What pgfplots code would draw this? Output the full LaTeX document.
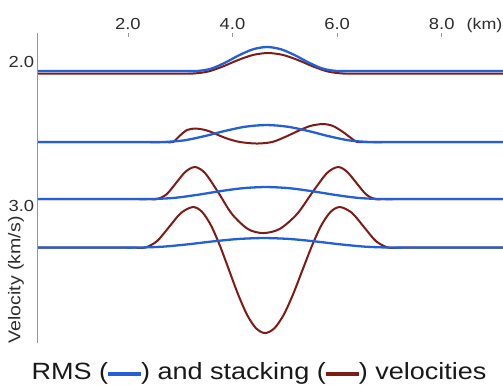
\documentclass[border=0pt]{standalone}
\usepackage{pgfplots}
\pgfplotsset{compat=1.18}
\usepackage{fontspec}
\setmainfont{Liberation Sans}[FakeStretch=1.15]
\definecolor{rmsblue}{RGB}{35,95,215}
\definecolor{stackred}{RGB}{125,28,22}
\definecolor{axgray}{RGB}{150,150,150}
\definecolor{txt}{RGB}{45,45,45}
\begin{document}
\begin{tikzpicture}
\path[use as bounding box] (0,0) rectangle (503pt,384pt);
\begin{axis}[
  name=ax,
  at={(37.7pt,41pt)}, anchor=south west,
  scale only axis, width=465.3pt, height=310pt,
  xmin=0.275, xmax=9.172, ymin=1.7986, ymax=3.951,
  y dir=reverse,
  axis line style={draw=none},
  xtick={2,4,6,8}, xticklabels={2.0,4.0,6.0,8.0},
  xtick pos=right, xticklabel pos=right,
  ytick={2,3}, yticklabels={2.0,3.0},
  ytick pos=left, yticklabel pos=left,
  ytick style={draw=none},
  tick align=inside,
  major tick length=3.5pt,
  xtick style={draw=axgray, line width=0.8pt},
  tick label style={font=\fontsize{16}{19}\selectfont, text=txt},
  xticklabel style={anchor=base, yshift=3.5pt},
  every axis plot/.append style={smooth, no marks},
]
% trace 1
\addplot[stackred, line width=2.0pt] coordinates {(0.275,2.0799) (2.671,2.0799) (2.958,2.0799) (3.245,2.0799) (3.532,2.0663) (3.818,2.0307) (4.105,1.9867) (4.392,1.9511) (4.679,1.9375) (4.966,1.9511) (5.253,1.9867) (5.539,2.0307) (5.826,2.0663) (6.113,2.0799) (6.400,2.0799) (6.687,2.0799) (9.2,2.0799)};
\addplot[rmsblue, line width=2.3pt] coordinates {(0.275,2.0625) (2.785,2.0625) (3.053,2.0625) (3.321,2.0625) (3.589,2.0466) (3.857,2.0049) (4.124,1.9534) (4.392,1.9117) (4.660,1.8958) (4.928,1.9117) (5.195,1.9534) (5.463,2.0049) (5.731,2.0466) (5.998,2.0625) (6.266,2.0625) (6.534,2.0625) (9.2,2.0625)};
% trace 2
\addplot[stackred, line width=2.0pt] coordinates {(0.275,2.5556) (2.596,2.5556) (2.729,2.5556) (2.862,2.5556) (2.996,2.5104) (3.130,2.4722) (3.283,2.4618) (3.436,2.4688) (3.570,2.4826) (3.704,2.5035) (3.895,2.5313) (4.143,2.5556) (4.468,2.5660) (4.755,2.5556) (5.004,2.5208) (5.252,2.4792) (5.482,2.4444) (5.730,2.4306) (5.922,2.4444) (6.113,2.4861) (6.266,2.5278) (6.380,2.5556) (6.513,2.5556) (6.646,2.5556) (9.2,2.5556)};
\addplot[rmsblue, line width=2.3pt] coordinates {(0.275,2.5556) (1.879,2.5556) (2.275,2.5556) (2.671,2.5556) (3.067,2.5443) (3.463,2.5148) (3.858,2.4783) (4.254,2.4488) (4.650,2.4375) (5.046,2.4488) (5.442,2.4783) (5.837,2.5148) (6.233,2.5443) (6.629,2.5556) (7.025,2.5556) (7.421,2.5556) (9.2,2.5556)};
% trace 3
\addplot[stackred, line width=2.0pt] coordinates {(0.275,2.9514) (2.192,2.9514) (2.374,2.9514) (2.556,2.9514) (2.738,2.9188) (2.920,2.8403) (3.101,2.7618) (3.283,2.7292) (3.474,2.7708) (3.723,2.9028) (3.990,3.0556) (4.296,3.1597) (4.583,3.1875) (4.899,3.1597) (5.233,3.0556) (5.532,2.9028) (5.807,2.7708) (6.017,2.7292) (6.189,2.7618) (6.371,2.8403) (6.553,2.9188) (6.725,2.9514) (6.907,2.9514) (7.089,2.9514) (9.2,2.9514)};
\addplot[rmsblue, line width=2.3pt] coordinates {(0.275,2.9514) (1.562,2.9514) (2.002,2.9514) (2.442,2.9514) (2.882,2.9434) (3.321,2.9226) (3.761,2.8969) (4.201,2.8760) (4.641,2.8681) (5.081,2.8760) (5.520,2.8969) (5.960,2.9226) (6.400,2.9434) (6.839,2.9514) (7.279,2.9514) (7.719,2.9514) (9.2,2.9514)};
% trace 4
\addplot[stackred, line width=2.0pt] coordinates {(0.275,3.2882) (1.868,3.2882) (2.098,3.2882) (2.327,3.2882) (2.556,3.2438) (2.786,3.1458) (3.015,3.0479) (3.245,3.0069) (3.417,3.0403) (3.589,3.1347) (3.761,3.2771) (3.933,3.4444) (4.105,3.6118) (4.277,3.7542) (4.449,3.8486) (4.621,3.8819) (4.801,3.8486) (4.980,3.7542) (5.159,3.6118) (5.338,3.4444) (5.518,3.2771) (5.697,3.1347) (5.876,3.0403) (6.055,3.0069) (6.285,3.0479) (6.514,3.1458) (6.744,3.2438) (6.973,3.2882) (7.203,3.2882) (7.432,3.2882) (9.2,3.2882)};
\addplot[rmsblue, line width=2.3pt] coordinates {(0.275,3.2882) (1.229,3.2882) (1.711,3.2882) (2.193,3.2882) (2.675,3.2819) (3.157,3.2654) (3.639,3.2450) (4.120,3.2285) (4.602,3.2222) (5.084,3.2285) (5.566,3.2450) (6.047,3.2654) (6.529,3.2819) (7.011,3.2882) (7.493,3.2882) (7.975,3.2882) (9.2,3.2882)};
\end{axis}
\draw[axgray, line width=1pt] (ax.south west) -- (ax.north west);
\node[anchor=base, text=txt, font=\fontsize{15.5}{18}\selectfont] at (484.5pt,354.5pt) {(km)};
\node[rotate=90, text=txt, font=\fontsize{17}{20}\selectfont] at (16pt,104pt) {Velocity (km/s)};
\node[anchor=base, text=black!90, font=\fontsize{23.5}{28}\selectfont] at (259pt,5pt) {RMS (\textcolor{rmsblue}{\rule[3pt]{33pt}{4.5pt}}) and stacking (\textcolor{stackred}{\rule[3pt]{33pt}{4.5pt}}) velocities};
\end{tikzpicture}
\end{document}
